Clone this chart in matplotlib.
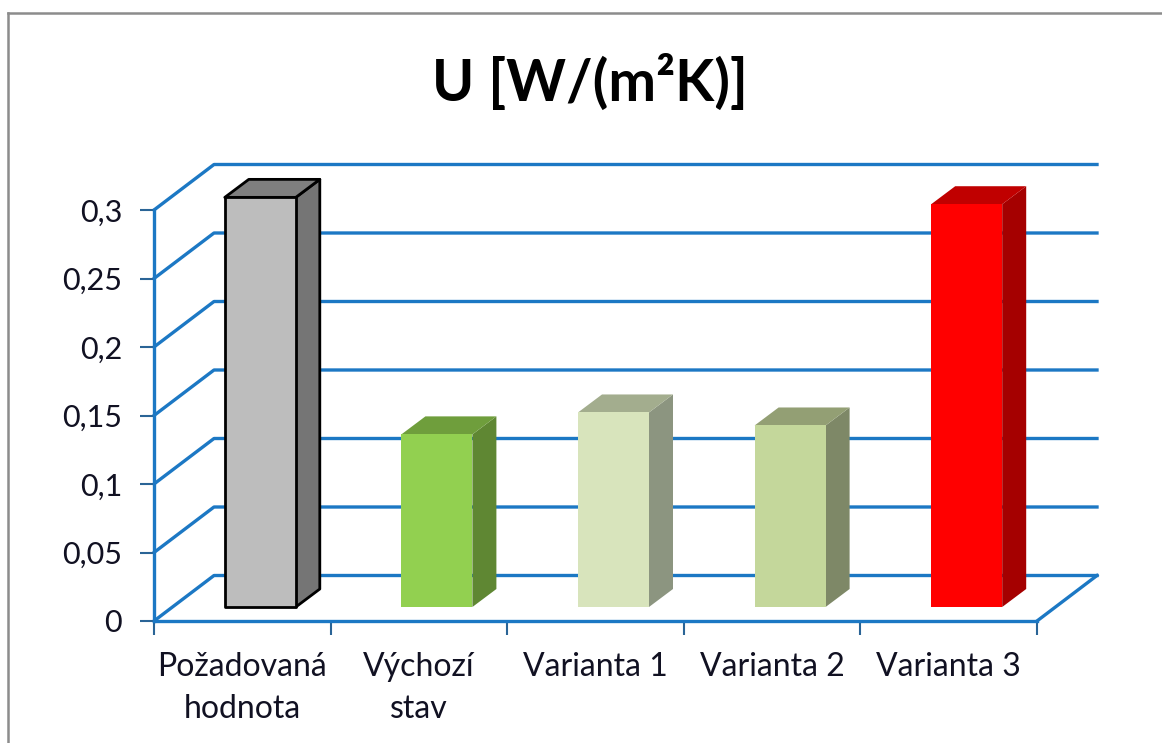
"""
U value 3D column chart, drawn with polygons on a normal value/category axes.
"""
import matplotlib
matplotlib.use('Agg')
import matplotlib.pyplot as plt
from matplotlib.patches import Polygon
from matplotlib.lines import Line2D

W, H = 1162, 743

categories = ['Požadovaná\nhodnota', 'Výchozí\nstav', 'Varianta 1', 'Varianta 2', 'Varianta 3']
values = [0.299, 0.126, 0.142, 0.1325, 0.294]
y_ticks = [0, 0.05, 0.1, 0.15, 0.2, 0.25, 0.3]
y_labels = ['0', '0,05', '0,1', '0,15', '0,2', '0,25', '0,3']

# front, top, side colours of each column
front_colors = ['#bdbdbd', '#92d050', '#d8e4bc', '#c4d79b', '#ff0000']
top_colors = ['#7f7f7f', '#6f9e3c', '#a3ad8e', '#939f74', '#c00000']
side_colors = ['#757575', '#5f8733', '#8c9580', '#7e8867', '#a50000']
edge_colors = ['black', None, None, None, None]

GRID = '#1c78c4'

plt.rcParams['font.family'] = ['Lato', 'DejaVu Sans']

fig = plt.figure(figsize=(W / 100, H / 100), dpi=100)

# axes box in pixels
left, right, top, bottom = 154, 1037, 210, 621
ax = fig.add_axes([left / W, 1 - bottom / H, (right - left) / W, (bottom - top) / H])
ax.set_xlim(0, 5)
ax.set_ylim(0, 0.3)
ax.patch.set_visible(False)

# pixel to data conversion for the 3D offsets
px_x = 5 / (right - left)
px_y = 0.3 / (bottom - top)
depth_x, depth_y = 60 * px_x, 45.5 * px_y

# walls and floor
for v in y_ticks:
    ax.plot([0, depth_x, 5 + depth_x], [v, v + depth_y, v + depth_y],
            color=GRID, lw=2.4, clip_on=False, zorder=1)
ax.plot([5, 5 + depth_x], [0, depth_y], color=GRID, lw=2.4, clip_on=False, zorder=1)

# columns
bar_w = 71 * px_x
bar_dx, bar_dy = 24 * px_x, 18 * px_y
base_x, base_y = 18 * px_x, 14 * px_y
for i, v in enumerate(values):
    x0 = i + 0.5 + base_x - bar_w / 2
    x1 = x0 + bar_w
    y0 = base_y
    y1 = base_y + v
    ec = edge_colors[i]
    lw = 2.0 if ec else 0
    kw = dict(closed=True, clip_on=False, zorder=3, joinstyle='round',
              edgecolor=ec if ec else 'none', linewidth=lw)
    ax.add_patch(Polygon([(x1, y0), (x1 + bar_dx, y0 + bar_dy), (x1 + bar_dx, y1 + bar_dy), (x1, y1)],
                         facecolor=side_colors[i], **kw))
    ax.add_patch(Polygon([(x0, y1), (x1, y1), (x1 + bar_dx, y1 + bar_dy), (x0 + bar_dx, y1 + bar_dy)],
                         facecolor=top_colors[i], **kw))
    ax.add_patch(Polygon([(x0, y0), (x1, y0), (x1, y1), (x0, y1)],
                         facecolor=front_colors[i], **kw))

# axes
for s in ['top', 'right']:
    ax.spines[s].set_visible(False)
for s in ['left', 'bottom']:
    ax.spines[s].set_color(GRID)
    ax.spines[s].set_linewidth(2.4)
    ax.spines[s].set_zorder(2)

ax.set_yticks(y_ticks)
ax.set_yticklabels(y_labels)
ax.set_xticks(range(6))
ax.set_xticklabels([])
ax.set_xticks([i + 0.5 for i in range(5)], minor=True)
ax.set_xticklabels(categories, minor=True, linespacing=1.52, va='top')
ax.tick_params(axis='y', length=10, width=1.5, color='#2a6496', labelsize=22, pad=13,
               labelcolor='#111122')
ax.tick_params(axis='x', which='major', length=10, width=1.5, color='#2a6496')
ax.tick_params(axis='x', which='minor', length=0, labelsize=23, pad=22, labelcolor='#111122')

# title
fig.text(590 / W, 1 - 82 / H, 'U [W/(m\u00b2K)]', ha='center', va='center',
         fontsize=41, fontweight='bold', color='black')

# chart border
for xs, ys in [([8, 8], [13, H]), ([8, W], [13, 13])]:
    fig.add_artist(Line2D([x / W for x in xs], [1 - y / H for y in ys], color='#8c8c8c', lw=1.8))

fig.savefig('out.png', dpi=100)
